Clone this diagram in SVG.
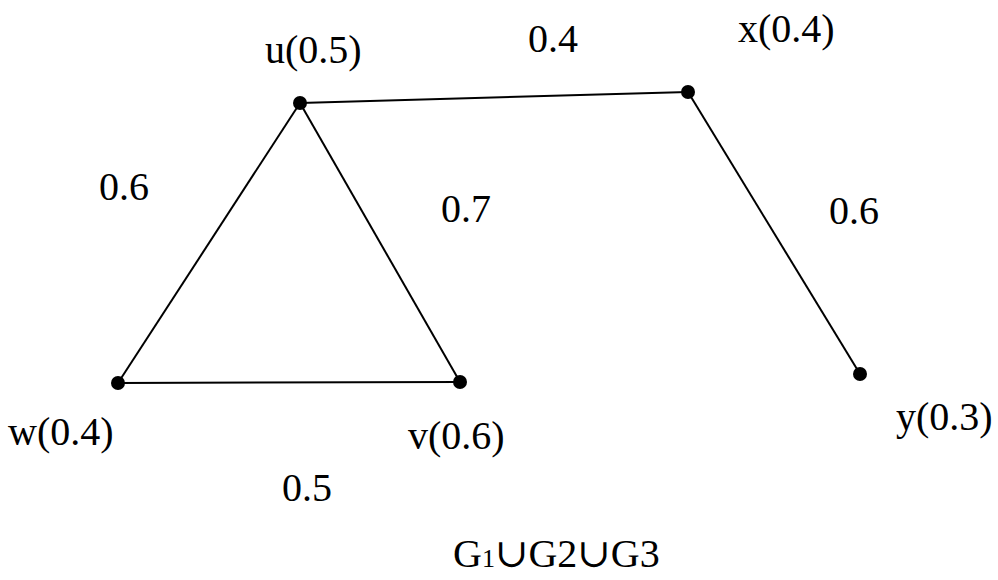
<svg xmlns="http://www.w3.org/2000/svg" width="998" height="580" viewBox="0 0 998 580">
<style>
text{font-family:'Liberation Serif','Times New Roman',Times,'DejaVu Serif',serif;font-size:40px;fill:#000}
.e{stroke:#000;stroke-width:2;fill:none}
.d{fill:#000}
</style>
<rect width="998" height="580" fill="#fff"/>
<g id="edges">
<line class="e" x1="300" y1="103" x2="688" y2="92"/>
<line class="e" x1="300" y1="103" x2="118" y2="383"/>
<line class="e" x1="300" y1="103" x2="460" y2="382"/>
<line class="e" x1="118" y1="383" x2="460" y2="382"/>
<line class="e" x1="688" y1="92" x2="860" y2="374"/>
<text x="528" y="52">0.4</text>
<text x="99" y="200">0.6</text>
<text x="441" y="222">0.7</text>
<text x="829" y="224">0.6</text>
<text x="282" y="501">0.5</text>
</g>
<g id="u"><circle class="d" cx="300" cy="103" r="7"/><text x="265" y="63">u(0.5)</text></g>
<g id="x"><circle class="d" cx="688" cy="92" r="7"/><text x="738" y="42">x(0.4)</text></g>
<g id="w"><circle class="d" cx="118" cy="383" r="7"/><text x="8" y="445">w(0.4)</text></g>
<g id="v"><circle class="d" cx="460" cy="382" r="7"/><text x="408" y="449">v(0.6)</text></g>
<g id="y"><circle class="d" cx="860" cy="374" r="7"/><text x="896" y="430">y(0.3)</text></g>
<g id="caption"><text x="453" y="567">G<tspan font-size="26">1</tspan>∪G2∪G3</text></g>
</svg>
